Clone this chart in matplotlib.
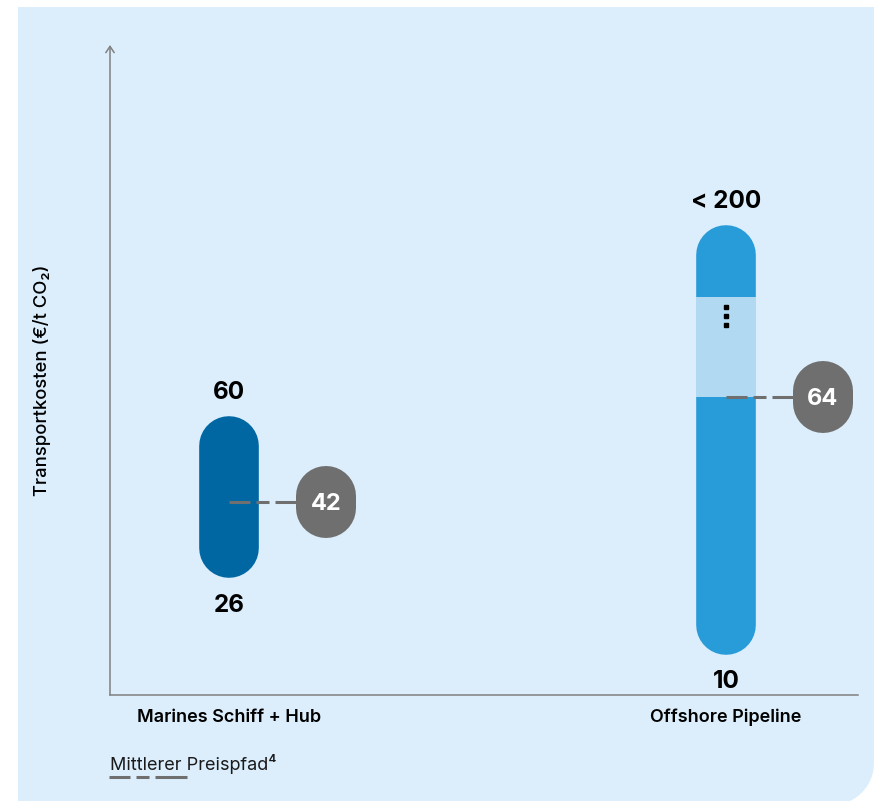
import numpy as np
import matplotlib
matplotlib.use("Agg")
import matplotlib.pyplot as plt
from matplotlib.patches import Rectangle, Polygon

# ---------------- data ----------------
categories = ["Marines Schiff + Hub", "Offshore Pipeline"]
low = [26, 10]
high_drawn = [60, 100]          # pipeline top is not to scale (label "< 200")
high_label = ["60", "< 200"]
low_label = ["26", "10"]
mean = [42, 64]
break_lo = [None, 64]
break_hi = [None, 85]
bar_colors = ["#0067A3", "#289CD8"]
break_color = "#B1D9F2"
ylabel = "Transportkosten (€/t CO₂)"
legend_label = "Mittlerer Preispfad⁴"

BG = "#DCEEFC"
GRAY = "#6F6F6F"
AXC = "#808080"
FONT = ["Inter", "DejaVu Sans"]
plt.rcParams["font.family"] = FONT

W, H, DPI = 874, 801, 100
fig = plt.figure(figsize=(W / DPI, H / DPI), dpi=DPI)
fig.patch.set_facecolor("white")

# background panel in pixel coordinates (y downward)
bg = fig.add_axes([0, 0, 1, 1])
bg.set_xlim(0, W)
bg.set_ylim(H, 0)
bg.axis("off")
r = 42
cx, cy = W - r, H - r + 4
ang = np.linspace(0, np.pi / 2, 30)
arc = [(cx + r * np.cos(a), cy + r * np.sin(a)) for a in ang]
pts = [(18, 7), (W, 7)] + arc + [(18, H + 5)]
bg.add_patch(Polygon(pts, closed=True, facecolor=BG, edgecolor="none"))

# main axes
ax = fig.add_axes([110 / W, 106 / H, 748 / W, 650 / H])
ax.set_xlim(-0.2394, 1.2656)
ax.set_ylim(1.5, 137.7)
ax.patch.set_alpha(0)
for s in ["top", "right", "left"]:
    ax.spines[s].set_visible(False)
ax.spines["bottom"].set_color(AXC)
ax.spines["bottom"].set_linewidth(1.1)
ax.set_xticks([])
ax.set_yticks([])
ax.annotate("", xy=(0, 1), xytext=(0, 0), xycoords="axes fraction",
            arrowprops=dict(arrowstyle="->,head_length=0.45,head_width=0.3",
                            lw=1.1, color=AXC, shrinkA=0, shrinkB=0),
            annotation_clip=False)

fig.canvas.draw()
p0 = ax.transData.transform((0, 0))
p1 = ax.transData.transform((1, 1))
ppu_x = p1[0] - p0[0]
ppu_y = p1[1] - p0[1]
pt = 72.0 / DPI

bar_w = 0.12
bar_px = bar_w * ppu_x
rad_px = bar_px / 2
inset = rad_px / ppu_y
bubble_off = 0.195
bubble_w_px = 60
bubble_str_px = 12

dash = (0, (21 * pt / 2.2, 6 * pt / 2.2, 13 * pt / 2.2, 6 * pt / 2.2, 200, 1))

for i, cat in enumerate(categories):
    x = i
    ax.plot([x, x], [low[i] + inset, high_drawn[i] - inset], lw=bar_px * pt,
            color=bar_colors[i], solid_capstyle="round", zorder=2)
    if break_lo[i] is not None:
        ax.add_patch(Rectangle((x - bar_w / 2, break_lo[i]), bar_w,
                               break_hi[i] - break_lo[i], facecolor=break_color,
                               edgecolor="none", zorder=3))
        dots_y = [break_hi[i] - d / ppu_y for d in (10, 19, 28)]
        ax.plot([x] * 3, dots_y, ls="none", marker="s", ms=4.5 * pt,
                color="black", zorder=4)
    # mean path
    ax.plot([x, x + bubble_off], [mean[i], mean[i]], color=GRAY, lw=2.2,
            linestyle=dash, solid_capstyle="butt", dash_capstyle="butt", zorder=5)
    h = bubble_str_px / 2 / ppu_y
    ax.plot([x + bubble_off] * 2, [mean[i] - h, mean[i] + h], lw=bubble_w_px * pt,
            color=GRAY, solid_capstyle="round", zorder=6)
    ax.text(x + bubble_off, mean[i], str(mean[i]), color="white", fontsize=17,
            fontweight="bold", ha="center", va="center_baseline", zorder=7)
    # end labels
    ax.annotate(high_label[i], xy=(x, high_drawn[i]), xytext=(0, 26 * pt),
                textcoords="offset points", ha="center", va="center_baseline",
                fontsize=17.5, fontweight="bold", color="black")
    ax.annotate(low_label[i], xy=(x, low[i]), xytext=(0, -25 * pt),
                textcoords="offset points", ha="center", va="center_baseline",
                fontsize=17.5, fontweight="bold", color="black")
    ax.annotate(cat, xy=(x, 0), xycoords=("data", "axes fraction"),
                xytext=(0, -20 * pt), textcoords="offset points", ha="center",
                va="center_baseline", fontsize=13, fontweight="semibold",
                color="black", annotation_clip=False)

fig.text(42 / W, 1 - 380 / H, ylabel, rotation=90, ha="center", va="center",
         fontsize=13.3, fontweight="medium", color="black")

fig.text(110 / W, 1 - 764 / H, legend_label, ha="left", va="center",
         fontsize=13, color="#1a1a1a")
bg.plot([109, 187], [777, 777], color=GRAY, lw=2.2, linestyle=dash,
        dash_capstyle="butt")

fig.savefig("out.png", dpi=DPI, facecolor="white")
